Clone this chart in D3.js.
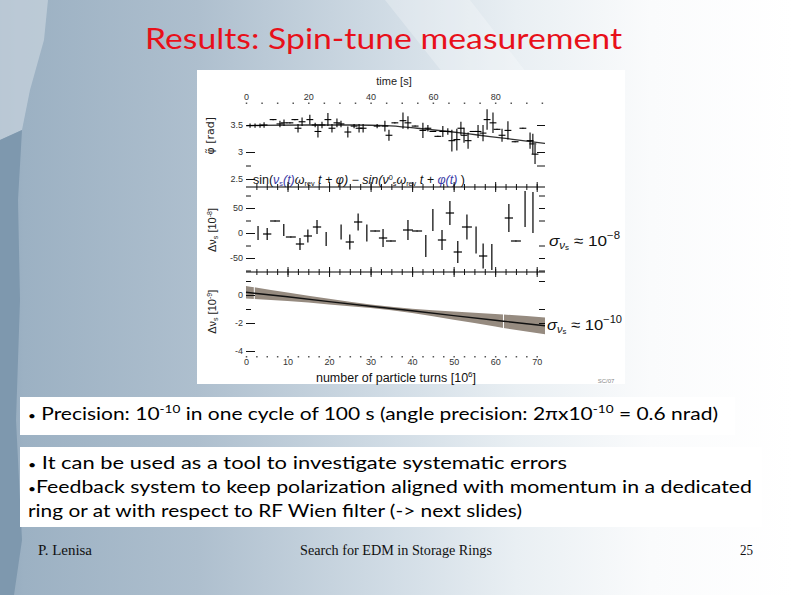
<!DOCTYPE html>
<html><head><meta charset="utf-8">
<script src="https://cdn.jsdelivr.net/npm/d3@7"></script>
<style>html,body{margin:0;padding:0;overflow:hidden;background:#fff}</style>
</head><body>
<svg id="c" width="794" height="595"></svg>
<script>
// ---------- data ----------
const timeTicks = [0, 20, 40, 60, 80];
const turnTicks = [0, 10, 20, 30, 40, 50, 60, 70];
const phiTicks = [3.5, 3, 2.5];
const nu8Ticks = [50, 0, -50];
const nu9Ticks = [0, -2, -4];

// top panel: phase vs time [s]
const phiTime = [1.3,2.9,4.5,5.8,8.7,10.9,12.2,14.1,15.7,16.7,18.0,20.5,22.2,23.1,24.4,26.3,27.6,29.2,30.5,32.7,34.7,36.3,37.6,42.1,44.6,45.9,47.8,50.4,52.0,54.3,56.8,58.4,60.0,61.6,63.2,64.8,66.1,67.7,69.0,70.0,71.3,72.9,74.5,76.1,77.4,79.3,80.6,82.2,84.1,86.4,88.9,91.2,92.1,92.8];
const phiVal  = [3.49,3.49,3.49,3.50,3.60,3.52,3.54,3.54,3.60,3.44,3.56,3.60,3.50,3.38,3.50,3.60,3.44,3.54,3.52,3.37,3.48,3.44,3.44,3.48,3.48,3.31,3.54,3.58,3.54,3.48,3.40,3.44,3.38,3.29,3.38,3.38,3.21,3.23,3.44,3.31,3.21,3.38,3.38,3.35,3.60,3.54,3.42,3.31,3.40,3.19,3.44,3.21,3.15,2.96];
const phiErr  = [0.04,0.04,0.04,0.05,0.01,0.06,0.06,0.01,0.01,0.08,0.08,0.09,0.04,0.11,0.06,0.12,0.08,0.08,0.06,0.1,0.04,0.08,0.08,0.04,0.1,0.1,0.01,0.15,0.12,0.01,0.14,0.06,0.01,0.01,0.1,0.06,0.2,0.2,0.12,0.14,0.15,0.01,0.12,0.15,0.19,0.19,0.01,0.12,0.17,0.01,0.01,0.15,0.19,0.18];
const fitTime = [0, 20, 35, 45, 55, 65, 75, 85, 96];
const fitPhi  = [3.49, 3.50, 3.50, 3.49, 3.44, 3.38, 3.31, 3.24, 3.16];

// middle panel: spin-tune deviation [1e-8] vs turns [1e6]
const nuTurns = [2.9,5.1,7.0,9.1,10.8,13.0,14.9,17.1,19.3,22.9,25.0,27.0,29.1,31.1,33.0,34.9,39.0,41.2,43.3,45.0,47.2,49.1,51.0,53.2,55.4,57.1,59.2,63.3,65.0,67.2,69.1];
const nuVal   = [0,-2,24,6,-8,-22,-6,12,-12,2,-18,22,0,4,-10,-16,6,4,-26,26,-14,40,-38,12,-14,-46,-48,30,-16,48,41];
const nuErr   = [14,12,1,12,1,12,13,14,14,15,15,17,17,1,18,1,20,1,22,22,20,24,22,25,27,25,26,28,1,36,41];
const nuXErr  = [0,1,1.2,0,1.2,1,1,1,0,0,1,1,0,1.2,1,1.2,1.2,1.2,0,0,1,1,1,1.2,0,1,0,1,1.2,0,0];

// bottom panel: fitted spin-tune deviation [1e-9] vs turns with error band
const bandTurns = [0, 2, 10, 20, 30, 40, 50, 60, 62, 72];
const bandMid   = [0.2, 0.13, -0.13, -0.47, -0.8, -1.13, -1.47, -1.8, -1.87, -2.2];
const bandHalf  = [0.45, 0.42, 0.3, 0.2, 0.12, 0.15, 0.3, 0.45, 0.48, 0.6];
const bandCuts  = [2, 62];

// ---------- drawing ----------
const svg = d3.select("#c");
const defs = svg.append("defs");
const g1 = defs.append("linearGradient").attr("id","bg").attr("x1","0").attr("x2","1").attr("y1","0").attr("y2","0");
[[0,"#93a9bc"],[0.03,"#9cb1c3"],[0.25,"#aebfce"],[0.5,"#d2dde6"],[0.65,"#e9eff3"],[0.82,"#fafbfc"],[1,"#ffffff"]]
  .forEach(([o,c])=>g1.append("stop").attr("offset",o).attr("stop-color",c));
svg.append("rect").attr("width",794).attr("height",595).attr("fill","url(#bg)");
svg.append("path").attr("d","M0,0 L48,0 L44,40 L30,90 L22,130 L0,140 Z").attr("fill","#c3d0db").attr("opacity",0.8);
svg.append("path").attr("d","M0,140 L22,130 L18,200 L20,300 L16,420 L22,540 L14,595 L0,595 Z").attr("fill","#7e98ae");
svg.append("path").attr("d","M385,0 L470,0 L540,90 L600,200 L520,170 Z").attr("fill","#ffffff").attr("opacity",0.25);

// title
svg.append("text").attr("x",145).attr("y",49).attr("font-family","'Comic Sans MS', Lato, sans-serif")
  .attr("font-size",28).attr("fill","#e8101a").attr("textLength",477).attr("lengthAdjust","spacingAndGlyphs")
  .text("Results: Spin-tune measurement");

// figure panel
svg.append("rect").attr("x",197).attr("y",70).attr("width",428).attr("height",314).attr("fill","#ffffff");

const X0 = 246, X1 = 545;
const xTime = d3.scaleLinear().domain([0,96]).range([X0,X1]);
const xTurn = d3.scaleLinear().domain([0,72]).range([X0,X1]);
const yPhi = d3.scaleLinear().domain([2.5,3.5]).range([179,125]);
const yNu8 = d3.scaleLinear().domain([-50,50]).range([258,208]);
const yNu9 = d3.scaleLinear().domain([-4,0]).range([351,295]);

const fig = svg.append("g").attr("font-family","'Liberation Sans', Arial, sans-serif");
const fmt = d => String(d);

function styleAxis(sel, fs){
  sel.select(".domain").remove();
  sel.selectAll(".tick line").attr("stroke","#111").attr("stroke-width",1);
  sel.selectAll(".tick text").attr("font-size",fs||9).attr("fill","#333").attr("font-family","'Liberation Sans', Arial, sans-serif");
  return sel;
}

// top time axis
fig.append("text").attr("x",394).attr("y",85).attr("text-anchor","middle").attr("font-size",11).attr("fill","#222").text("time [s]");
styleAxis(fig.append("g").attr("transform","translate(0,104)").call(d3.axisTop(xTime).tickValues(timeTicks).tickFormat(fmt).tickSize(0).tickPadding(4)));
styleAxis(fig.append("g").attr("transform","translate(0,104)").call(d3.axisTop(xTime).tickValues(d3.range(0,96,5)).tickSize(1.5).tickFormat("")))
  .selectAll(".tick line").attr("stroke-width",1.5).attr("stroke","#555");

// top panel y axes
styleAxis(fig.append("g").attr("transform",`translate(${X0},0)`).call(d3.axisLeft(yPhi).tickValues(phiTicks).tickFormat(fmt).tickSize(-9).tickPadding(3)));
styleAxis(fig.append("g").attr("transform",`translate(${X0},0)`).call(d3.axisLeft(yPhi).tickValues([2.75]).tickSize(-5).tickFormat("")));
styleAxis(fig.append("g").attr("transform",`translate(${X1},0)`).call(d3.axisRight(yPhi).tickValues([3.5,3.0,2.75]).tickSize(-8).tickFormat("")));
fig.append("text").attr("transform",`translate(214,${yPhi(3.3)}) rotate(-90)`).attr("text-anchor","middle")
  .attr("font-size",11).attr("fill","#222").attr("font-family","'DejaVu Sans', sans-serif").text("φ\u0303 [rad]");

// fit curve
fig.append("path").datum(fitTime.map((t,i)=>[t,fitPhi[i]]))
  .attr("d",d3.line().x(d=>xTime(d[0])).y(d=>yPhi(d[1])).curve(d3.curveMonotoneX))
  .attr("fill","none").attr("stroke","#333").attr("stroke-width",1.3);

// data crosses top
const topG = fig.append("g").attr("stroke","#000").attr("stroke-width",1.1);
phiTime.forEach((t,i)=>{
  const x = xTime(t), y = yPhi(phiVal[i]);
  topG.append("line").attr("x1",x).attr("x2",x).attr("y1",yPhi(phiVal[i]+phiErr[i])).attr("y2",yPhi(phiVal[i]-phiErr[i]));
  topG.append("line").attr("x1",xTime(t-1.1)).attr("x2",xTime(t+1.1)).attr("y1",y).attr("y2",y);
});

// formula
const ft = fig.append("text").attr("x",253).attr("y",184).attr("font-size",12).attr("fill","#111")
  .attr("textLength",212).attr("lengthAdjust","spacingAndGlyphs");
ft.append("tspan").text("sin(");
ft.append("tspan").attr("fill","#3c3ca8").attr("font-style","italic").text("ν");
ft.append("tspan").attr("fill","#3c3ca8").attr("font-size",7).attr("dy",2).text("s");
ft.append("tspan").attr("fill","#3c3ca8").attr("font-style","italic").attr("dy",-2).text("(t)");
ft.append("tspan").attr("font-style","italic").text("ω");
ft.append("tspan").attr("font-size",7).attr("dy",2).text("rev");
ft.append("tspan").attr("font-style","italic").attr("dy",-2).text(" t + φ) − sin(ν");
ft.append("tspan").attr("font-size",7).attr("dy",-4).text("0");
ft.append("tspan").attr("font-size",7).attr("dy",6).text("s");
ft.append("tspan").attr("font-style","italic").attr("dy",-2).text("ω");
ft.append("tspan").attr("font-size",7).attr("dy",2).text("rev");
ft.append("tspan").attr("font-style","italic").attr("dy",-2).text(" t + ");
ft.append("tspan").attr("fill","#3c3ca8").attr("font-style","italic").text("φ(t)");
ft.append("tspan").text(" )");

// separators
[187,272].forEach(yy=>{
  fig.append("line").attr("x1",X0).attr("x2",X1).attr("y1",yy).attr("y2",yy).attr("stroke","#000").attr("stroke-width",1.2);
  fig.append("g").attr("transform",`translate(0,${yy})`).call(d3.axisBottom(xTurn).tickValues(d3.range(2.5,72,2.5)).tickSize(3).tickFormat(""))
    .call(s=>styleAxis(s)).selectAll(".tick line").attr("y1",-3);
  fig.append("g").attr("transform",`translate(0,${yy})`).call(d3.axisBottom(xTurn).tickValues([10,20,30,40,50,60,70]).tickSize(5).tickFormat(""))
    .call(s=>styleAxis(s)).selectAll(".tick line").attr("y1",-5);
});

// middle panel axes
styleAxis(fig.append("g").attr("transform",`translate(${X0},0)`).call(d3.axisLeft(yNu8).tickValues(nu8Ticks).tickFormat(fmt).tickSize(-9).tickPadding(3)));
styleAxis(fig.append("g").attr("transform",`translate(${X0},0)`).call(d3.axisLeft(yNu8).tickValues([75,25,-25,-75]).tickSize(-5).tickFormat("")));
styleAxis(fig.append("g").attr("transform",`translate(${X1},0)`).call(d3.axisRight(yNu8).tickValues([75,50,25,-25,-50,-75]).tickSize(-6).tickFormat("")));
const ml = fig.append("text").attr("transform",`translate(216,${yNu8(6)}) rotate(-90)`).attr("text-anchor","middle").attr("font-size",11).attr("fill","#222");
ml.append("tspan").text("Δν");
ml.append("tspan").attr("font-size",7).attr("dy",2).text("s");
ml.append("tspan").attr("dy",-2).text(" [10");
ml.append("tspan").attr("font-size",7).attr("dy",-4).text("-8");
ml.append("tspan").attr("dy",4).text("]");

const midG = fig.append("g").attr("stroke","#000").attr("stroke-width",1.2);
nuTurns.forEach((n,i)=>{
  const x = xTurn(n), y = yNu8(nuVal[i]);
  midG.append("line").attr("x1",x).attr("x2",x).attr("y1",yNu8(nuVal[i]+nuErr[i])).attr("y2",yNu8(nuVal[i]-nuErr[i]));
  if (nuXErr[i] > 0) midG.append("line").attr("x1",xTurn(n-nuXErr[i])).attr("x2",xTurn(n+nuXErr[i])).attr("y1",y).attr("y2",y);
});
function sigmaLabel(x, y, exp, len){
  const s = fig.append("text").attr("x",x).attr("y",y).attr("font-size",15).attr("fill","#111")
    .attr("textLength",len).attr("lengthAdjust","spacingAndGlyphs");
  s.append("tspan").attr("font-style","italic").text("σ");
  s.append("tspan").attr("font-style","italic").attr("font-size",10).attr("dy",3).text("ν");
  s.append("tspan").attr("font-size",7).attr("dy",1).text("s");
  s.append("tspan").attr("dy",-4).text(" ≈ 10");
  s.append("tspan").attr("font-size",10).attr("dy",-7).text(exp);
}
sigmaLabel(549, 246, "−8", 71);
sigmaLabel(547, 330, "−10", 75);

// bottom panel
const band = bandTurns.map((n,i)=>({n, lo: bandMid[i]-bandHalf[i], hi: bandMid[i]+bandHalf[i], m: bandMid[i]}));
fig.append("path").datum(band).attr("d",d3.area().x(d=>xTurn(d.n)).y0(d=>yNu9(d.lo)).y1(d=>yNu9(d.hi)).curve(d3.curveMonotoneX))
  .attr("fill","#968b80");
bandCuts.forEach(n=>{
  const i = d3.bisector(d=>d.n).left(band,n);
  fig.append("line").attr("x1",xTurn(n)).attr("x2",xTurn(n)).attr("y1",yNu9(band[i].hi)-1).attr("y2",yNu9(band[i].lo)+1)
    .attr("stroke","#fff").attr("stroke-width",1);
});
fig.append("path").datum(band).attr("d",d3.line().x(d=>xTurn(d.n)).y(d=>yNu9(d.m)))
  .attr("fill","none").attr("stroke","#111").attr("stroke-width",1.4);

styleAxis(fig.append("g").attr("transform",`translate(${X0},0)`).call(d3.axisLeft(yNu9).tickValues(nu9Ticks).tickFormat(fmt).tickSize(-9).tickPadding(3)));
styleAxis(fig.append("g").attr("transform",`translate(${X0},0)`).call(d3.axisLeft(yNu9).tickValues([1,-1]).tickSize(-5).tickFormat("")));
styleAxis(fig.append("g").attr("transform",`translate(${X1},0)`).call(d3.axisRight(yNu9).tickValues([1,-1,-2]).tickSize(-6).tickFormat("")));
const bl = fig.append("text").attr("transform",`translate(216,${yNu9(-1.2)}) rotate(-90)`).attr("text-anchor","middle").attr("font-size",11).attr("fill","#222");
bl.append("tspan").text("Δν");
bl.append("tspan").attr("font-size",7).attr("dy",2).text("s");
bl.append("tspan").attr("dy",-2).text(" [10");
bl.append("tspan").attr("font-size",7).attr("dy",-4).text("-9");
bl.append("tspan").attr("dy",4).text("]");

// bottom axis
styleAxis(fig.append("g").attr("transform","translate(0,356)").call(d3.axisBottom(xTurn).tickValues(turnTicks).tickFormat(fmt).tickSize(0).tickPadding(3)));
styleAxis(fig.append("g").attr("transform","translate(0,356)").call(d3.axisBottom(xTurn).tickValues(d3.range(0,72,2.5)).tickSize(1.5).tickFormat("")))
  .selectAll(".tick line").attr("stroke-width",1.5).attr("stroke","#555");
const xl = fig.append("text").attr("x",396).attr("y",382).attr("text-anchor","middle").attr("font-size",12.5).attr("fill","#111");
xl.append("tspan").text("number of particle turns [10");
xl.append("tspan").attr("font-size",8).attr("dy",-5).text("6");
xl.append("tspan").attr("dy",5).text("]");
fig.append("text").attr("x",606).attr("y",383).attr("text-anchor","middle").attr("font-size",6).attr("fill","#888").text("SC/07");

// text boxes
svg.append("rect").attr("x",20).attr("y",397).attr("width",715).attr("height",38).attr("fill","#fff");
svg.append("rect").attr("x",20).attr("y",447).attr("width",742).attr("height",80).attr("fill","#fff");
const bodyFont = "'Comic Sans MS', Lato, sans-serif";
function line(x,y,len,parts){
  const t = svg.append("text").attr("x",x).attr("y",y).attr("font-family",bodyFont).attr("font-size",17).attr("fill","#000")
    .attr("textLength",len).attr("lengthAdjust","spacingAndGlyphs");
  parts.forEach(p=>{
    const s = t.append("tspan").text(p.t);
    if (p.sup) s.attr("font-size",11).attr("dy",-7);
    if (p.down) s.attr("dy",7);
    if (p.small) s.attr("font-size",11);
  });
}
line(28,420,690,[{t:"•",small:true},{t:"  Precision: 10"},{t:"-10",sup:true},{t:" in one cycle of 100 s (angle precision: 2πx10",down:true},{t:"-10",sup:true},{t:" = 0.6 nrad)",down:true}]);
line(28,469,539,[{t:"•",small:true},{t:" It can be used as a tool to investigate systematic errors"}]);
line(28,493,724,[{t:"•",small:true},{t:"Feedback system to keep polarization aligned with momentum in a dedicated"}]);
line(28,517,494,[{t:"ring or at with respect to RF Wien filter (-> next slides)"}]);

// footer
const ff = "'Liberation Serif', 'Times New Roman', serif";
svg.append("text").attr("x",38).attr("y",555).attr("font-family",ff).attr("font-size",14).attr("fill","#111")
  .attr("textLength",54).attr("lengthAdjust","spacingAndGlyphs").text("P. Lenisa");
svg.append("text").attr("x",300).attr("y",555).attr("font-family",ff).attr("font-size",14).attr("fill","#111")
  .attr("textLength",192).attr("lengthAdjust","spacingAndGlyphs").text("Search for EDM in Storage Rings");
svg.append("text").attr("x",740).attr("y",555).attr("font-family",ff).attr("font-size",14).attr("fill","#111")
  .attr("textLength",13).attr("lengthAdjust","spacingAndGlyphs").text("25");
</script>
</body></html>
